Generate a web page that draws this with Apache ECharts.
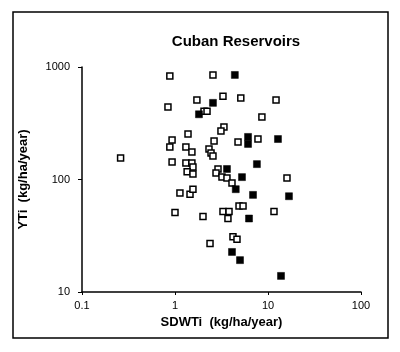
<!DOCTYPE html>
<html>
<head>
<meta charset="utf-8">
<script src="https://cdn.jsdelivr.net/npm/echarts@6/dist/echarts.min.js"></script>
<style>
  html, body { margin: 0; padding: 0; background: #fff; }
  #chart { width: 400px; height: 352px; }
</style>
</head>
<body>
<div id="chart"></div>
<script>
const titleText = 'Cuban Reservoirs';
const xName = 'SDWTi  (kg/ha/year)';
const yName = 'YTi  (kg/ha/year)';

// open squares: [SDWTi, YTi]
const openPoints = [
    [0.26, 155], [0.88, 830], [2.56, 850], [1.72, 510], [3.28, 550],
    [0.84, 440], [2.05, 405], [2.21, 405], [3.36, 293], [3.12, 270],
    [1.38, 254], [0.93, 224], [2.63, 220], [0.88, 194], [1.31, 194],
    [1.52, 176], [2.32, 187], [2.44, 172], [2.56, 162], [0.93, 143],
    [1.31, 140], [1.52, 140], [1.56, 129], [1.35, 117], [1.56, 112],
    [2.9, 124], [2.76, 114], [3.2, 105], [3.62, 103], [4.1, 93],
    [5.1, 530], [12.2, 510], [8.6, 360], [4.76, 215], [7.8, 229],
    [16, 103], [1.13, 76], [1.45, 74], [1.56, 82], [1.0, 51],
    [2.0, 47], [3.28, 52], [3.81, 52], [3.71, 45], [2.38, 27],
    [4.2, 31], [4.64, 29.5], [4.88, 58], [5.39, 58], [11.6, 52]
];

// filled squares: [SDWTi, YTi]
const filledPoints = [
    [4.4, 850], [2.56, 480], [1.81, 380], [6.1, 239], [6.1, 207],
    [12.8, 229], [7.6, 137], [3.62, 124], [5.25, 105], [4.5, 82],
    [6.9, 73], [16.8, 71], [6.25, 45], [4.1, 22.7], [5.0, 19.2],
    [13.8, 13.9]
];

const chart = echarts.init(document.getElementById('chart'), null, { renderer: 'canvas' });

const axisFont = { color: '#000', fontFamily: 'Liberation Sans, Arial, sans-serif', fontSize: 11 };

chart.setOption({
    animation: false,
    backgroundColor: '#fff',
    title: {
        text: titleText,
        left: 231,
        textAlign: 'center',
        top: 29,
        textStyle: { fontFamily: 'Liberation Sans, Arial, sans-serif', fontSize: 15, fontWeight: 'bold', color: '#000' }
    },
    graphic: [{
        type: 'rect',
        shape: { x: 13, y: 12, width: 375, height: 326 },
        style: { fill: 'none', stroke: '#000', lineWidth: 1.5 },
        silent: true
    }],
    grid: { left: 82, right: 39, top: 67, bottom: 60 },
    xAxis: {
        type: 'log',
        logBase: 10,
        min: 0.1,
        max: 100,
        name: xName,
        nameLocation: 'middle',
        nameGap: 16,
        nameTextStyle: { color: '#000', fontFamily: 'Liberation Sans, Arial, sans-serif', fontSize: 13, fontWeight: 'bold' },
        axisLine: { lineStyle: { color: '#000', width: 1.5 } },
        axisTick: { show: true, inside: false, length: 3, lineStyle: { color: '#000' } },
        minorTick: { show: false },
        splitLine: { show: false },
        axisLabel: Object.assign({ margin: 8, formatter: v => String(v) }, axisFont)
    },
    yAxis: {
        type: 'log',
        logBase: 10,
        min: 10,
        max: 1000,
        name: yName,
        nameLocation: 'middle',
        nameGap: 52,
        nameTextStyle: { color: '#000', fontFamily: 'Liberation Sans, Arial, sans-serif', fontSize: 13, fontWeight: 'bold' },
        axisLine: { lineStyle: { color: '#000', width: 1.5 } },
        axisTick: { show: true, inside: false, length: 4, lineStyle: { color: '#000' } },
        splitLine: { show: false },
        axisLabel: Object.assign({ margin: 12, formatter: v => String(v) }, axisFont)
    },
    series: [
        {
            type: 'scatter',
            name: 'open',
            data: openPoints,
            symbol: 'rect',
            symbolSize: 6,
            itemStyle: { color: '#fff', borderColor: '#000', borderWidth: 1.5, opacity: 1 }
        },
        {
            type: 'scatter',
            name: 'filled',
            data: filledPoints,
            symbol: 'rect',
            symbolSize: 7,
            itemStyle: { color: '#000', borderColor: '#000', borderWidth: 0.5, opacity: 1 }
        }
    ]
});
</script>
</body>
</html>
